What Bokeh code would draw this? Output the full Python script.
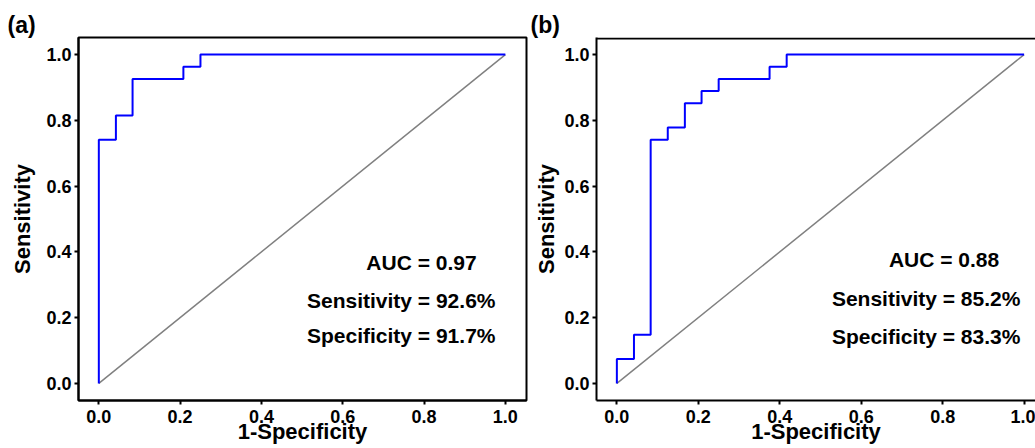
from bokeh.plotting import figure
from bokeh.layouts import row
from bokeh.models import Span, ColumnDataSource, PrintfTickFormatter
from bokeh.core.properties import value
from bokeh.embed import file_html
from bokeh.resources import INLINE

# ---- data ----
fpr_a = [0.0, 0.0, 0.042, 0.042, 0.083, 0.083, 0.208, 0.208, 0.25, 0.25, 1.0]
tpr_a = [0.0, 0.741, 0.741, 0.815, 0.815, 0.926, 0.926, 0.963, 0.963, 1.0, 1.0]

fpr_b = [0.0, 0.0, 0.042, 0.042, 0.083, 0.083, 0.125, 0.125, 0.167, 0.167,
         0.208, 0.208, 0.25, 0.25, 0.375, 0.375, 0.417, 0.417, 1.0]
tpr_b = [0.0, 0.074, 0.074, 0.148, 0.148, 0.741, 0.741, 0.778, 0.778, 0.852,
         0.852, 0.889, 0.889, 0.926, 0.926, 0.963, 0.963, 1.0, 1.0]

diag_x = [0.0, 1.0]
diag_y = [0.0, 1.0]

stats_a = ["AUC = 0.97", "Sensitivity = 92.6%", "Specificity = 91.7%"]
stats_b = ["AUC = 0.88", "Sensitivity = 85.2%", "Specificity = 83.3%"]
panel_labels = ["(a)", "(b)"]
ticks = [0.0, 0.2, 0.4, 0.6, 0.8, 1.0]
x_title = "1-Specificity"
y_title = "Sensitivity"

# ---- positions (layout only) ----
stats_pos_a = ([0.658, 0.512, 0.512], [0.369, 0.252, 0.146])
stats_pos_b = ([0.668, 0.528, 0.528], [0.376, 0.257, 0.143])

FONT = "Liberation Sans"


def make_panel(fpr, tpr, stats, stats_pos, label, width, x_end,
               min_left, min_right, title_offset, ylab_standoff, full_box):
    p = figure(width=width, height=448, output_backend="svg",
               toolbar_location=None, x_range=(-0.05, x_end),
               y_range=(-0.052, 1.052), min_border_left=min_left,
               min_border_right=min_right, min_border_top=37,
               min_border_bottom=48)
    p.xgrid.visible = False
    p.ygrid.visible = False
    p.background_fill_color = "white"
    p.border_fill_color = "white"
    if full_box:
        p.outline_line_color = "black"
        p.outline_line_width = 2
    else:
        p.outline_line_color = None
        p.add_layout(Span(location=1.049, dimension="width",
                          line_color="black", line_width=2))

    p.title.text = label
    p.title.align = "left"
    p.title.offset = title_offset
    p.title.standoff = 0
    p.title.text_font = FONT
    p.title.text_font_style = "bold"
    p.title.text_font_size = "23px"
    p.title.text_color = "black"

    for ax in (p.xaxis[0], p.yaxis[0]):
        ax.ticker = ticks
        ax.formatter = PrintfTickFormatter(format="%.1f")
        ax.axis_line_width = 2
        ax.axis_line_color = "black"
        ax.major_tick_line_width = 2
        ax.major_tick_line_color = "black"
        ax.major_tick_out = 4
        ax.major_tick_in = 0
        ax.minor_tick_line_color = None
        ax.major_label_text_font = FONT
        ax.major_label_text_font_style = "bold"
        ax.major_label_text_font_size = "18px"
        ax.major_label_text_color = "black"
        ax.major_label_standoff = 3
        ax.axis_label_text_font = FONT
        ax.axis_label_text_font_style = "bold"
        ax.axis_label_text_font_size = "22px"
        ax.axis_label_text_color = "black"
    p.yaxis[0].axis_label = y_title
    p.yaxis[0].axis_label_standoff = ylab_standoff
    p.xaxis[0].axis_label = x_title
    p.xaxis[0].major_label_standoff = 5
    p.xaxis[0].axis_label_standoff = -7

    p.line(diag_x, diag_y, line_color="#808080", line_width=1.5)
    p.line(fpr, tpr, line_color="#0000FF", line_width=2)

    src = ColumnDataSource(dict(x=stats_pos[0], y=stats_pos[1], t=stats))
    p.text(x="x", y="y", text="t", source=src, text_font=value(FONT),
           text_font_style="bold", text_font_size="21px", text_color="black",
           text_align="left", text_baseline="alphabetic")
    return p


p1 = make_panel(fpr_a, tpr_a, stats_a, stats_pos_a, panel_labels[0],
                width=528, x_end=1.052, min_left=78, min_right=2,
                title_offset=-71, ylab_standoff=8, full_box=True)
p2 = make_panel(fpr_b, tpr_b, stats_b, stats_pos_b, panel_labels[1],
                width=507, x_end=1.028, min_left=68, min_right=0,
                title_offset=-66, ylab_standoff=2, full_box=False)

layout = row(p1, p2)
open("out.html", "w").write(file_html(layout, INLINE))
